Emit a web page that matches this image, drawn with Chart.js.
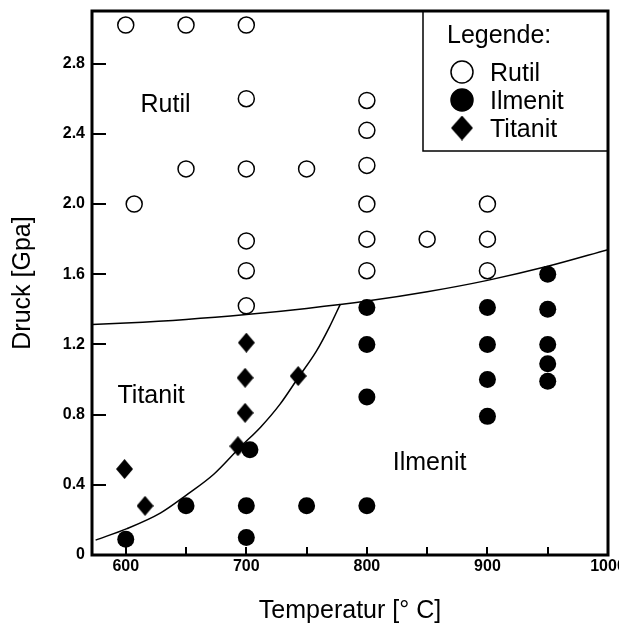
<!DOCTYPE html>
<html>
<head>
<meta charset="utf-8">
<script src="https://cdn.jsdelivr.net/npm/chart.js@4.4.1/dist/chart.umd.min.js"></script>
<style>
    html, body { margin: 0; padding: 0; background: #fff; }
    #wrap { width: 619px; height: 628px; }
</style>
</head>
<body>
<div id="wrap"><canvas id="chart" width="619" height="628"></canvas></div>
<script>
// Messpunkte (Temperatur in °C, Druck in GPa)
const rutilT = [600, 650, 700, 700, 650, 700, 750, 607, 700, 700, 700, 800, 800, 800, 800, 800, 800, 850, 900, 900, 900];
const rutilP = [3.02, 3.02, 3.02, 2.60, 2.20, 2.20, 2.20, 2.00, 1.79, 1.62, 1.42, 2.59, 2.42, 2.22, 2.00, 1.80, 1.62, 1.80, 2.00, 1.80, 1.62];

const ilmenitT = [600, 650, 700, 700, 703, 750, 800, 800, 800, 800, 900, 900, 900, 900, 950, 950, 950, 950, 950];
const ilmenitP = [0.09, 0.28, 0.28, 0.10, 0.60, 0.28, 0.28, 0.90, 1.20, 1.41, 1.41, 1.20, 1.00, 0.79, 1.60, 1.40, 1.20, 1.09, 0.99];

const titanitT = [599, 616, 693, 699, 699, 700, 743];
const titanitP = [0.49, 0.28, 0.62, 0.81, 1.01, 1.21, 1.02];

// Phasengrenzen
const rutilGrenzeT = [572, 600, 650, 700, 750, 800, 850, 900, 950, 1000];
const rutilGrenzeP = [1.314, 1.322, 1.342, 1.37, 1.405, 1.447, 1.50, 1.565, 1.645, 1.74];

const titanitGrenzeT = [575, 601, 629, 650, 673, 695, 712, 728, 743, 758, 769, 778];
const titanitGrenzeP = [0.085, 0.15, 0.24, 0.34, 0.46, 0.615, 0.73, 0.86, 1.01, 1.16, 1.30, 1.43];

// Achsen
const xTickWerte = [600, 650, 700, 750, 800, 850, 900, 950, 1000];
const yTickWerte = [0, 0.4, 0.8, 1.2, 1.6, 2.0, 2.4, 2.8];

// Beschriftung der Felder
const feldNamen = ['Rutil', 'Titanit', 'Ilmenit'];
const feldT = [633, 621, 852];
const feldP = [2.565, 0.908, 0.526];

const legendTitel = 'Legende:';

const fontFamily = '"Liberation Sans", Arial, Helvetica, sans-serif';

function toPoints(xs, ys) {
    return xs.map((x, i) => ({ x: x, y: ys[i] }));
}

function makeDiamond(w, h) {
    const c = document.createElement('canvas');
    c.width = w;
    c.height = h;
    const g = c.getContext('2d');
    g.fillStyle = '#000';
    g.beginPath();
    g.moveTo(w / 2, 0);
    g.lineTo(w, h / 2);
    g.lineTo(w / 2, h);
    g.lineTo(0, h / 2);
    g.closePath();
    g.fill();
    return c;
}

const diamond = makeDiamond(17, 20);
const diamondGross = makeDiamond(22, 25);

// Striche nach innen, vor den Punkten
const tickPlugin = {
    id: 'innenTicks',
    beforeDatasetsDraw(chart) {
        const ctx = chart.ctx;
        const area = chart.chartArea;
        const sx = chart.scales.x;
        const sy = chart.scales.y;
        ctx.save();
        ctx.globalAlpha = 1;
        ctx.globalCompositeOperation = 'source-over';
        ctx.fillStyle = 'rgb(0,0,0)';
        for (const v of xTickWerte) {
            const p = Math.round(sx.getPixelForValue(v));
            ctx.fillRect(p - 1, area.bottom - 8, 2, 8);
        }
        for (const v of yTickWerte) {
            const p = Math.round(sy.getPixelForValue(v));
            ctx.fillRect(area.left, p - 1, 14, 2);
        }
        ctx.restore();
    }
};

// Rahmen, Feldnamen und Legende
const rahmenPlugin = {
    id: 'rahmen',
    afterDraw(chart) {
        const ctx = chart.ctx;
        const area = chart.chartArea;
        const sx = chart.scales.x;
        const sy = chart.scales.y;
        ctx.save();

        // Feldnamen
        ctx.fillStyle = '#000';
        ctx.font = '25px ' + fontFamily;
        ctx.textAlign = 'center';
        ctx.textBaseline = 'middle';
        feldNamen.forEach((name, i) => {
            ctx.fillText(name, sx.getPixelForValue(feldT[i]), sy.getPixelForValue(feldP[i]));
        });

        // Legende
        const lx = 423, lb = 151;
        ctx.fillStyle = '#fff';
        ctx.fillRect(lx, area.top, area.right - lx, lb - area.top);
        ctx.strokeStyle = '#000';
        ctx.lineWidth = 1.5;
        ctx.strokeRect(lx, area.top, area.right - lx, lb - area.top);

        ctx.fillStyle = '#000';
        ctx.textAlign = 'left';
        ctx.textBaseline = 'alphabetic';
        ctx.fillText(legendTitel, 447, 43);

        const eintraege = chart.data.datasets.filter(d => d.inLegende);
        eintraege.forEach((d, i) => {
            const my = 72 + i * 28;
            const mx = 462;
            if (d.pointStyle === 'circle') {
                ctx.beginPath();
                ctx.arc(mx, my, 11, 0, Math.PI * 2);
                ctx.fillStyle = d.backgroundColor;
                ctx.fill();
                ctx.lineWidth = 1.5;
                ctx.strokeStyle = '#000';
                ctx.stroke();
            } else {
                ctx.drawImage(diamondGross, mx - 11, my - 12.5);
            }
            ctx.fillStyle = '#000';
            ctx.fillText(d.label, 490, my + 9);
        });

        // Rahmen
        ctx.lineWidth = 3;
        ctx.strokeStyle = '#000';
        ctx.strokeRect(area.left, area.top, area.right - area.left, area.bottom - area.top);
        ctx.restore();
    }
};

new Chart(document.getElementById('chart'), {
    type: 'scatter',
    data: {
        datasets: [{
            label: 'Grenze Rutil',
            data: toPoints(rutilGrenzeT, rutilGrenzeP),
            showLine: true,
            borderColor: '#000',
            borderWidth: 1.5,
            pointRadius: 0,
            pointHoverRadius: 0,
            cubicInterpolationMode: 'monotone'
        }, {
            label: 'Grenze Titanit',
            data: toPoints(titanitGrenzeT, titanitGrenzeP),
            showLine: true,
            borderColor: '#000',
            borderWidth: 1.5,
            pointRadius: 0,
            pointHoverRadius: 0,
            cubicInterpolationMode: 'monotone'
        }, {
            label: 'Rutil',
            inLegende: true,
            data: toPoints(rutilT, rutilP),
            pointStyle: 'circle',
            pointRadius: 8,
            backgroundColor: '#fff',
            borderColor: '#000',
            borderWidth: 1.5
        }, {
            label: 'Ilmenit',
            inLegende: true,
            data: toPoints(ilmenitT, ilmenitP),
            pointStyle: 'circle',
            pointRadius: 8.5,
            backgroundColor: '#000',
            borderColor: '#000',
            borderWidth: 0
        }, {
            label: 'Titanit',
            inLegende: true,
            data: toPoints(titanitT, titanitP),
            pointStyle: diamond,
            pointRadius: 10,
            backgroundColor: '#000',
            borderColor: '#000'
        }]
    },
    options: {
        responsive: false,
        animation: false,
        devicePixelRatio: 1,
        layout: { padding: { top: 9, right: 9, left: 0, bottom: 0 } },
        plugins: {
            legend: { display: false },
            tooltip: { enabled: false }
        },
        scales: {
            x: {
                type: 'linear',
                min: 572,
                max: 1000,
                grid: { display: false, drawTicks: false },
                border: { display: false },
                afterBuildTicks: scale => { scale.ticks = xTickWerte.map(v => ({ value: v })); },
                afterFit: scale => {
                    scale.height = 73;
                    scale.paddingLeft = 0;
                    scale.paddingRight = 0;
                },
                ticks: {
                    autoSkip: false,
                    maxRotation: 0,
                    padding: 2,
                    color: '#000',
                    font: { family: fontFamily, size: 16, weight: 'bold' },
                    callback: v => (v % 100 === 0 ? String(v) : '')
                },
                title: {
                    display: true,
                    text: 'Temperatur [° C]',
                    color: '#000',
                    font: { family: fontFamily, size: 25 },
                    padding: { top: 0, bottom: 2 }
                }
            },
            y: {
                type: 'linear',
                min: 0,
                max: 3.1,
                grid: { display: false, drawTicks: false },
                border: { display: false },
                afterBuildTicks: scale => { scale.ticks = yTickWerte.map(v => ({ value: v })); },
                afterFit: scale => {
                    scale.width = 92;
                    scale.paddingTop = 0;
                    scale.paddingBottom = 0;
                },
                ticks: {
                    autoSkip: false,
                    padding: 7,
                    color: '#000',
                    font: { family: fontFamily, size: 16, weight: 'bold' },
                    callback: v => (v === 0 ? '0' : v.toFixed(1))
                },
                title: {
                    display: true,
                    text: 'Druck [Gpa]',
                    color: '#000',
                    font: { family: fontFamily, size: 25 },
                    padding: { top: 8, bottom: 0 }
                }
            }
        }
    },
    plugins: [tickPlugin, rahmenPlugin]
});
</script>
</body>
</html>
